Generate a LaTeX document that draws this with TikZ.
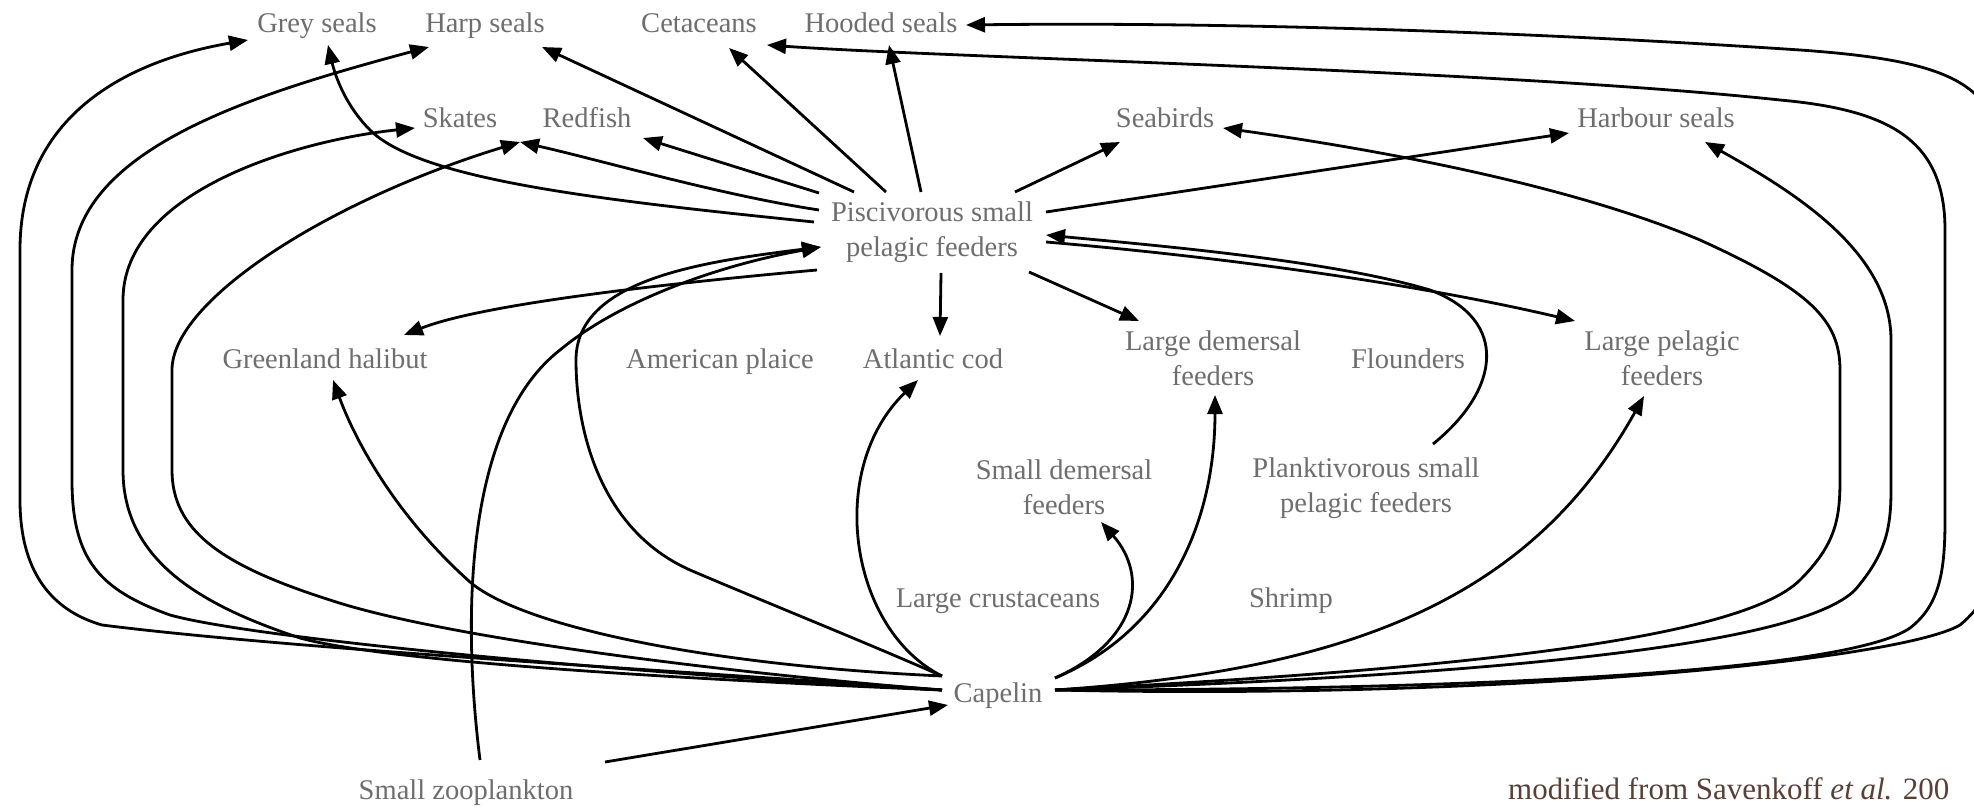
\documentclass[tikz,border=0pt]{standalone}
\usepackage{fontspec}
\setmainfont{Liberation Serif}
\usetikzlibrary{arrows.meta,calc}
\definecolor{labgray}{HTML}{6E6E6E}
\definecolor{srcbrown}{HTML}{5A4034}
\tikzset{
  lab/.style={text=labgray, font=\fontsize{28.5}{35}\selectfont, align=center, inner sep=0pt},
  lab1/.style={lab, text height=22pt, text depth=3pt},
  conn/.style={line width=2.8pt, line join=round, -{Triangle[length=19pt,width=15pt]}},
}
\begin{document}
\begin{tikzpicture}[x=1pt,y=-1pt]
\fill[white] (0,0) rectangle (1974,810);
\useasboundingbox (0,0) rectangle (1974,810);
% nodes
\node[lab1] (grey) at (317,23) {Grey seals};
\node[lab1] (harp) at (485,23) {Harp seals};
\node[lab1] (ceta) at (699,23) {Cetaceans};
\node[lab1] (hood) at (881,23) {Hooded seals};
\node[lab1] (skates) at (460,118) {Skates};
\node[lab1] (redfish) at (587,118) {Redfish};
\node[lab1] (seabirds) at (1165,118) {Seabirds};
\node[lab1] (harbour) at (1656,118) {Harbour seals};
\node[lab] (pisc) at (932,232) {Piscivorous small\\pelagic feeders};
\node[lab1] (ghal) at (325,359) {Greenland halibut};
\node[lab1] (plaice) at (720,359) {American plaice};
\node[lab1] (cod) at (933,359) {Atlantic cod};
\node[lab] (ldem) at (1213,358) {Large demersal\\feeders};
\node[lab1] (flound) at (1408,359) {Flounders};
\node[lab] (lpel) at (1662,358) {Large pelagic\\feeders};
\node[lab] (sdem) at (1064,487) {Small demersal\\feeders};
\node[lab] (plank) at (1366,488) {Planktivorous small\\pelagic feeders};
\node[lab1] (lcrust) at (998,598) {Large crustaceans};
\node[lab1] (shrimp) at (1291,598) {Shrimp};
\node[lab1] (capelin) at (998,693) {Capelin};
\node[lab1] (zoo) at (466,790) {Small zooplankton};
\node[anchor=base west, inner sep=0pt, text=srcbrown, font=\fontsize{31}{38}\selectfont] (src) at (1508,799) {modified from Savenkoff \textit{et al.} 200};

% ---- left loops from Capelin
\draw[conn] ($(capelin)+(-56,-3)$) .. controls (700,672) and (300,650) .. (102,625) .. controls (50,610) and (20,570) .. (20,500) -- (20,250) .. controls (20,120) and (120,62) .. ($(grey)+(-69,17)$);
\draw[conn] ($(capelin)+(-56,-3)$) .. controls (650,675) and (260,640) .. (170,615) .. controls (100,590) and (72,560) .. (72,480) -- (72,270) .. controls (72,150) and (250,95) .. ($(harp)+(-56,24)$);
\draw[conn] ($(capelin)+(-56,-3)$) .. controls (650,678) and (380,660) .. (300,638) .. controls (200,605) and (123,560) .. (123,470) -- (123,300) .. controls (123,190) and (300,140) .. ($(skates)+(-45,10)$);
\draw[conn] ($(capelin)+(-56,-3)$) .. controls (750,675) and (450,640) .. (330,600) .. controls (220,565) and (172,530) .. (172,470) -- (172,370) .. controls (172,300) and (330,200) .. ($(redfish)+(-67,24)$);
\draw[conn] ($(capelin)+(-56,-17)$) .. controls (700,665) and (520,625) .. (470,582) .. controls (395,515) and (355,440) .. ($(ghal)+(8,21)$);
\draw[conn] ($(capelin)+(-56,-17)$) .. controls (860,640) and (760,600) .. (690,570) .. controls (600,530) and (576,430) .. (576,360) .. controls (576,280) and (700,262) .. ($(pisc)+(-111,15)$);
\draw[conn] ($(capelin)+(-56,-17)$) .. controls (850,630) and (825,470) .. ($(cod)+(-15,21)$);
% ---- Small zooplankton
\draw[conn] ($(zoo)+(14,-30)$) .. controls (460,600) and (470,420) .. (560,350) .. controls (620,300) and (720,265) .. ($(pisc)+(-111,15)$);
\draw[conn] ($(zoo)+(139,-28)$) -- ($(capelin)+(-50,12)$);
% ---- right side from Capelin
\draw[conn] ($(capelin)+(57,-15)$) .. controls (1140,640) and (1148,575) .. ($(sdem)+(37,35)$);
\draw[conn] ($(capelin)+(57,-15)$) .. controls (1170,630) and (1215,520) .. ($(ldem)+(2,37)$);
\draw[conn] ($(capelin)+(57,-3)$) .. controls (1350,670) and (1530,600) .. ($(lpel)+(-18,38)$);
\draw[conn] ($(capelin)+(57,-3)$) .. controls (1450,670) and (1740,640) .. (1800,580) .. controls (1835,545) and (1840,520) .. (1840,480) -- (1840,370) .. controls (1840,320) and (1810,290) .. (1700,240) .. controls (1570,185) and (1380,150) .. ($(seabirds)+(58,10)$);
\draw[conn] ($(capelin)+(57,-3)$) .. controls (1500,675) and (1800,645) .. (1855,590) .. controls (1885,555) and (1891,530) .. (1891,490) -- (1891,340) .. controls (1891,250) and (1790,190) .. ($(harbour)+(49,24)$);
\draw[conn] ($(capelin)+(57,-3)$) .. controls (1500,690) and (1850,670) .. (1910,628) .. controls (1940,605) and (1945,570) .. (1945,520) -- (1945,230) .. controls (1945,140) and (1890,110) .. (1780,100) .. controls (1500,70) and (950,58) .. ($(ceta)+(68,22)$);
\draw[conn] ($(capelin)+(57,-3)$) .. controls (1500,700) and (1900,660) .. (1960,625) .. controls (1990,600) and (2000,570) .. (2000,510) -- (2000,160) .. controls (2000,80) and (1940,60) .. (1800,50) .. controls (1500,30) and (1200,22) .. ($(hood)+(85,2)$);
% ---- from Piscivorous small pelagic feeders
\draw[conn] ($(pisc)+(-118,-10)$) .. controls (600,200) and (420,180) .. (370,130) .. controls (345,105) and (335,75) .. ($(grey)+(11,22)$);
\draw[conn] ($(pisc)+(-78,-40)$) -- ($(harp)+(57,24)$);
\draw[conn] ($(pisc)+(-113,-39)$) -- ($(redfish)+(56,20)$);
\draw[conn] ($(pisc)+(-113,-22)$) .. controls (720,195) and (600,160) .. ($(redfish)+(-67,24)$);
\draw[conn] ($(pisc)+(-46,-40)$) -- ($(ceta)+(30,25)$);
\draw[conn] ($(pisc)+(-11,-40)$) -- ($(hood)+(8,22)$);
\draw[conn] ($(pisc)+(83,-40)$) -- ($(seabirds)+(-45,24)$);
\draw[conn] ($(pisc)+(114,-20)$) -- ($(harbour)+(-87,15)$);
\draw[conn] ($(pisc)+(114,10)$) .. controls (1200,255) and (1400,280) .. ($(lpel)+(-87,-37)$);
\draw[conn] ($(pisc)+(9,41)$) -- ($(cod)+(7,-23)$);
\draw[conn] ($(pisc)+(97,40)$) -- ($(ldem)+(-74,-37)$);
\draw[conn] ($(pisc)+(-115,38)$) .. controls (650,285) and (480,305) .. ($(ghal)+(79,-24)$);
% ---- Planktivorous -> Piscivorous
\draw[conn] ($(plank)+(67,-44)$) .. controls (1500,390) and (1510,320) .. (1430,290) .. controls (1330,260) and (1150,245) .. ($(pisc)+(114,3)$);
\end{tikzpicture}
\end{document}
